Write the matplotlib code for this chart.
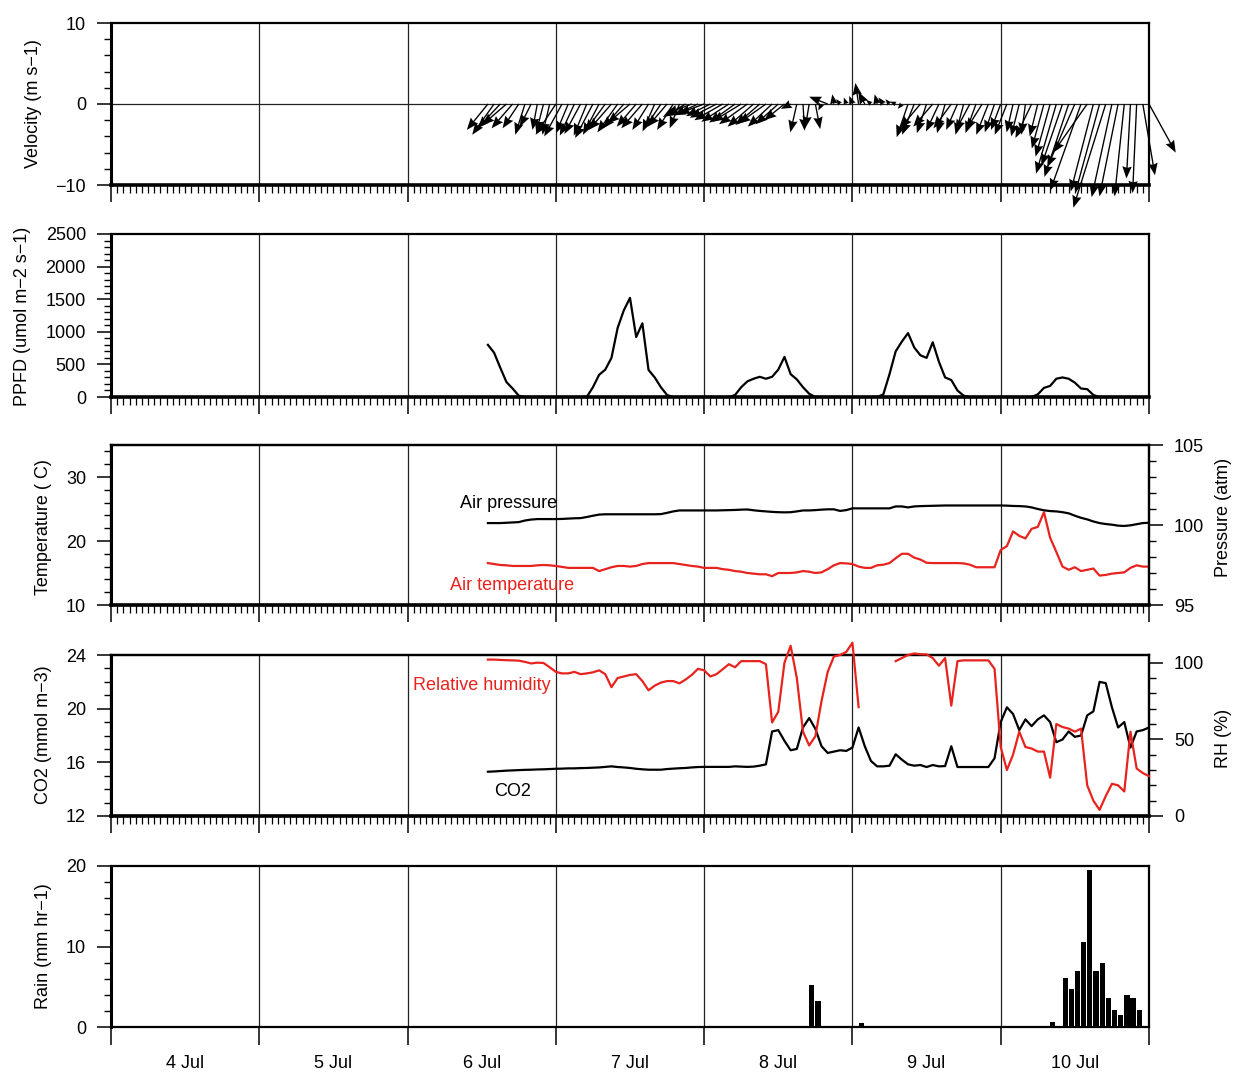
import numpy as np
import matplotlib
matplotlib.use("Agg")
import matplotlib.pyplot as plt
from matplotlib.ticker import MultipleLocator, FixedLocator

plt.rcParams['font.family'] = ['Liberation Sans', 'DejaVu Sans']
plt.rcParams['font.size'] = 13

# ---------------------------------------------------------------------------
# Hourly station record, first sample 6 Jul 13:00, last sample 11 Jul 00:00
# ---------------------------------------------------------------------------
first_sample_day = 2 + 13 / 24.0        # days after 4 Jul 00:00

day_labels = ['4 Jul', '5 Jul', '6 Jul', '7 Jul', '8 Jul', '9 Jul', '10 Jul']

# wind vector components (m s-1)
wind_u = [-2.6, -2.7, -2.8, -3.0, -2.6, -2.0, -1.2, -1.4, -0.6, -0.9, -0.9,
          -2.5, -2.2, -1.5, -1.8, -2.0, -1.6, -2.2, -2.0, -2.5, -2.8, -2.5, -2.6,
          -2.8, -2.4, -2.6, -2.0, -1.5, -2.0, -2.4, -2.0, -1.2, -2.8, -3.2, -3.0,
          -3.2, -3.0, -3.3, -3.5, -3.4, -3.2, -3.6, -3.5, -3.2, -3.0, -3.4, -3.0,
          -2.8, -2.5, -1.2, -0.8, 0.2, -0.5, 0.6, -0.4, -2.3, -0.2, -0.5, -0.3,
          -0.4, -0.4, -0.8, -0.6, -0.3, -0.6, -0.5, -0.7, -0.5, -1.4, -1.5, -2.5,
          -1.2, -2.4, -1.6, -1.0, -2.2, -1.4, -1.0, -1.8, -1.3, -2.0, -1.5, -1.2,
          -1.2, -1.5, -0.8, -1.0, -0.5, -2.0, -1.0, -1.5, -1.8, -2.5, -2.6, -3.0,
          -3.4, -3.8, -4.2, -2.8, -3.0, -4.0, -2.5, -2.3, -1.2, -0.5, -0.5, 1.5, 3.3]
wind_v = [-3.2, -3.8, -3.0, -2.6, -3.0, -3.0, -3.8, -2.8, -3.2, -3.5, -3.8,
          -3.8, -4.0, -3.6, -3.9, -3.7, -3.9, -4.2, -3.8, -3.4, -3.2, -3.5, -3.0,
          -2.4, -2.8, -3.0, -3.2, -3.4, -3.0, -2.8, -3.2, -3.0, -1.6, -1.2, -1.4,
          -1.2, -1.5, -1.7, -2.0, -2.2, -2.3, -2.2, -2.5, -2.8, -2.6, -2.4, -2.8,
          -2.5, -2.0, -0.6, -3.5, -3.3, -3.0, -3.1, -0.8, 0.9, 1.2, 0.6, 0.8,
          1.0, 2.6, 1.5, 0.5, 1.2, 0.8, 0.6, 0.3, -0.6, -4.1, -3.8, -3.0,
          -3.6, -2.8, -3.4, -3.6, -3.0, -3.2, -3.8, -3.4, -3.6, -3.2, -3.8, -3.5,
          -3.2, -3.8, -3.5, -4.0, -3.8, -4.2, -4.0, -5.5, -6.5, -8.6, -7.6, -9.0,
          -7.8, -10.7, -6.0, -10.8, -11.0, -12.8, -11.5, -11.4, -11.4, -9.2, -11.0, -8.8, -6.0]

# photosynthetic photon flux density (umol m-2 s-1)
ppfd = [800, 680, 450, 230, 130, 20, 0, 0, 0, 0, 0,
        0, 0, 0, 0, 0, 0, 150, 340, 420, 600, 1060, 1330,
        1520, 920, 1130, 415, 300, 150, 30, 0, 0, 0, 0, 0,
        0, 0, 0, 0, 0, 30, 150, 240, 280, 310, 280, 310,
        420, 615, 350, 270, 150, 50, 0, 0, 0, 0, 0, 0,
        0, 0, 0, 0, 0, 40, 350, 700, 850, 980, 760, 640,
        600, 840, 540, 300, 260, 100, 20, 0, 0, 0, 0, 0,
        0, 0, 0, 0, 0, 0, 40, 140, 170, 280, 300, 280,
        220, 130, 120, 30, 0, 0, 0, 0, 0, 0, 0, 0, 0]

# air pressure (atm axis)
pressure = [100.12, 100.12, 100.12, 100.14, 100.16, 100.18, 100.28, 100.34, 100.37, 100.37, 100.37,
            100.37, 100.38, 100.40, 100.42, 100.43, 100.50, 100.58, 100.65, 100.67, 100.67, 100.67, 100.67,
            100.67, 100.67, 100.67, 100.67, 100.67, 100.68, 100.76, 100.85, 100.91, 100.91, 100.91, 100.91,
            100.91, 100.91, 100.91, 100.92, 100.93, 100.94, 100.96, 100.97, 100.92, 100.88, 100.85, 100.82,
            100.80, 100.79, 100.80, 100.85, 100.91, 100.91, 100.93, 100.96, 100.98, 100.98, 100.88, 100.93,
            101.04, 101.04, 101.04, 101.04, 101.04, 101.04, 101.04, 101.16, 101.16, 101.10, 101.16, 101.18,
            101.19, 101.20, 101.21, 101.22, 101.22, 101.22, 101.22, 101.22, 101.22, 101.22, 101.22, 101.22,
            101.22, 101.21, 101.19, 101.18, 101.16, 101.10, 101.00, 100.92, 100.87, 100.85, 100.80, 100.73,
            100.58, 100.45, 100.35, 100.22, 100.12, 100.06, 100.02, 99.96, 99.94, 99.98, 100.05, 100.12, 100.14]

# air temperature (C)
temperature = [16.55, 16.4, 16.25, 16.2, 16.1, 16.1, 16.1, 16.1, 16.2, 16.25, 16.2,
               16.1, 15.95, 15.8, 15.8, 15.8, 15.8, 15.8, 15.3, 15.6, 15.9, 16.1, 16.1,
               16.0, 16.1, 16.4, 16.55, 16.55, 16.55, 16.55, 16.55, 16.4, 16.25, 16.1, 16.0,
               15.8, 15.8, 15.8, 15.6, 15.5, 15.3, 15.2, 15.0, 14.9, 14.8, 14.8, 14.5,
               15.0, 15.0, 15.0, 15.1, 15.3, 15.2, 15.0, 15.1, 15.6, 16.2, 16.55, 16.5,
               16.4, 16.0, 15.8, 15.8, 16.2, 16.3, 16.55, 17.3, 18.0, 18.0, 17.4, 17.1,
               16.6, 16.55, 16.55, 16.55, 16.55, 16.55, 16.5, 16.3, 15.9, 15.9, 15.9, 15.9,
               18.6, 19.2, 21.5, 20.8, 20.4, 21.9, 22.2, 24.5, 20.5, 18.3, 16.0, 15.5,
               15.9, 15.3, 15.5, 15.7, 14.6, 14.7, 14.9, 15.0, 15.1, 15.8, 16.2, 16.0, 16.0]

# CO2 concentration (mmol m-3)
co2 = [15.30, 15.32, 15.35, 15.38, 15.40, 15.42, 15.44, 15.45, 15.47, 15.48, 15.50,
       15.52, 15.53, 15.55, 15.55, 15.57, 15.58, 15.60, 15.62, 15.66, 15.70, 15.65, 15.62,
       15.58, 15.52, 15.48, 15.45, 15.45, 15.45, 15.50, 15.53, 15.56, 15.58, 15.62, 15.65,
       15.66, 15.66, 15.66, 15.66, 15.66, 15.70, 15.68, 15.66, 15.68, 15.75, 15.85, 18.30,
       18.40, 17.60, 16.90, 17.00, 18.60, 19.30, 18.50, 17.20, 16.70, 16.80, 16.90, 16.85,
       17.10, 18.60, 17.20, 16.10, 15.70, 15.70, 15.75, 16.60, 16.20, 15.85, 15.75, 15.80,
       15.65, 15.80, 15.70, 15.72, 17.20, 15.65, 15.65, 15.65, 15.65, 15.65, 15.65, 16.30,
       19.00, 20.10, 19.60, 18.40, 19.20, 18.70, 19.20, 19.50, 19.00, 17.50, 17.70, 18.30,
       17.90, 18.00, 19.50, 19.80, 22.00, 21.90, 20.10, 18.60, 19.00, 17.10, 18.30, 18.40, 18.60]

# relative humidity (%), sensor gap in the small hours of 9 Jul
nan = float('nan')
rh = [102, 102, 101.8, 101.6, 101.5, 101.3, 100.5, 99.5, 100, 99.8, 97,
      94, 93, 93, 94, 92.5, 93, 93.7, 95, 92.5, 84, 90, 91,
      92, 92.5, 88, 82, 85, 87, 88, 88, 86.5, 89, 92, 96,
      95, 91, 92.5, 95.7, 99, 97, 101, 101, 101, 101, 99, 61,
      68, 100, 111, 90, 55, 46, 52, 75, 94, 104, 105, 107,
      113, 71, nan, nan, nan, nan, nan, 101, 103, 105, 106, 105.5,
      105.4, 103, 98, 103, 72, 101, 101.5, 101.5, 101.5, 101.5, 101.5, 96,
      45, 30, 40, 55, 45, 44, 42, 42, 25, 60, 58, 57,
      55, 57, 20, 10, 4, 13, 21, 20, 16, 55, 31, 28, 26]

# hourly rain totals (mm hr-1): hour index after the first sample, amount
rain_hour = [52, 53, 60, 91, 93, 94, 95, 96, 97, 98, 99, 100, 101, 102, 103, 104, 105]
rain_mm = [5.2, 3.2, 0.5, 0.6, 6.1, 4.7, 6.9, 10.6, 19.5, 6.9, 8.0, 3.6, 2.1, 1.5, 4.0, 3.6, 2.1]

RED = '#e8231e'

n_samples = len(ppfd)
t = first_sample_day + np.arange(n_samples) / 24.0
rain_t = first_sample_day + np.asarray(rain_hour) / 24.0

# ---------------------------------------------------------------------------
fig = plt.figure(figsize=(12.34, 10.75), dpi=100)
FW, FH = 1234.0, 1075.0
left_px, right_px = 111, 1149
panel_px = [(23, 185), (234, 397), (445, 605), (655, 816), (866, 1027)]

axes = []
for top, bot in panel_px:
    ax = fig.add_axes([left_px / FW, 1 - bot / FH, (right_px - left_px) / FW, (bot - top) / FH])
    axes.append(ax)


def style_y(ax, lo, hi, major, minor, side='left'):
    ax.set_ylim(lo, hi)
    ax.yaxis.set_major_locator(MultipleLocator(major))
    ax.yaxis.set_minor_locator(MultipleLocator(minor))
    ax.tick_params(axis='y', which='major', direction='out', length=10, width=1.1, pad=8,
                   labelsize=13, left=(side == 'left'), right=(side == 'right'),
                   labelleft=(side == 'left'), labelright=(side == 'right'))
    ax.tick_params(axis='y', which='minor', direction='out', length=5, width=1.0,
                   left=(side == 'left'), right=(side == 'right'))


for i, ax in enumerate(axes):
    ax.set_xlim(0, 7)
    ax.xaxis.set_major_locator(FixedLocator(np.arange(0, 8)))
    for s in ax.spines.values():
        s.set_linewidth(1.6)
    ax.spines['left'].set_linewidth(2.2)
    for d in range(1, 7):
        ax.axvline(d, color='#222222', lw=0.9, zorder=1)
    if i < 4:
        ax.spines['bottom'].set_linewidth(2.6)
        ax.xaxis.set_minor_locator(MultipleLocator(1 / 24.0))
        ax.tick_params(axis='x', which='major', direction='out', length=12, width=1.1,
                       labelbottom=False)
        ax.tick_params(axis='x', which='minor', direction='out', length=5.5, width=0.9)

# --- wind vectors --------------------------------------------------------
ax = axes[0]
style_y(ax, -10, 10, 10, 2)
ax.axhline(0, color='#222222', lw=0.9, zorder=1)
ax.quiver(t, np.zeros(n_samples), wind_u, wind_v, angles='uv', scale_units='y', scale=1,
          width=0.0013, headwidth=7, headlength=9, headaxislength=8,
          color='black', clip_on=False, zorder=5)

# --- PPFD ----------------------------------------------------------------
ax = axes[1]
style_y(ax, 0, 2500, 500, 100)
ax.plot(t, ppfd, color='black', lw=1.6, zorder=3)

# --- temperature and pressure --------------------------------------------
ax = axes[2]
style_y(ax, 10, 35, 10, 2)
ax.plot(t, temperature, color=RED, lw=1.6, zorder=3)
axp = ax.twinx()
style_y(axp, 95, 105, 5, 1, side='right')
for s in axp.spines.values():
    s.set_linewidth(1.6)
axp.plot(t, pressure, color='black', lw=1.6, zorder=3)
ax.text(2.353, 25.9, 'Air pressure', color='black', fontsize=13, ha='left', va='center')
ax.text(2.286, 12.97, 'Air temperature', color=RED, fontsize=13, ha='left', va='center')

# --- CO2 and relative humidity -------------------------------------------
ax = axes[3]
style_y(ax, 12, 24, 4, 1)
ax.plot(t, co2, color='black', lw=1.6, zorder=3)
axr = ax.twinx()
style_y(axr, 0, 105, 50, 10, side='right')
for s in axr.spines.values():
    s.set_linewidth(1.6)
axr.plot(t, rh, color=RED, lw=1.6, zorder=3, clip_on=False)
ax.text(2.036, 21.69, 'Relative humidity', color=RED, fontsize=13, ha='left', va='center')
ax.text(2.583, 13.79, 'CO2', color='black', fontsize=13, ha='left', va='center')

# --- rain ----------------------------------------------------------------
ax = axes[4]
style_y(ax, 0, 20, 10, 2)
ax.bar(rain_t, rain_mm, width=0.85 / 24.0, align='edge', color='black', zorder=3)
ax.tick_params(axis='x', which='major', direction='out', length=13, width=1.1, labelbottom=False)
ax.set_xticks(np.arange(len(day_labels)) + 0.5, labels=day_labels, minor=True)
ax.tick_params(axis='x', which='minor', length=0, pad=20, labelsize=13)

# --- axis titles ---------------------------------------------------------
def side_label(xpx, ypx, text):
    fig.text(xpx / FW, 1 - ypx / FH, text, rotation=90, ha='center', va='center', fontsize=13)

side_label(33, 104, 'Velocity (m s\u22121)')
side_label(23, 316, 'PPFD (umol m\u22122 s\u22121)')
side_label(44, 527, 'Temperature ( C)')
side_label(43, 735, 'CO2 (mmol m\u22123)')
side_label(44, 946, 'Rain (mm hr\u22121)')
side_label(1224, 517, 'Pressure (atm)')
side_label(1224, 738, 'RH (%)')

fig.savefig('out.png', dpi=100)
